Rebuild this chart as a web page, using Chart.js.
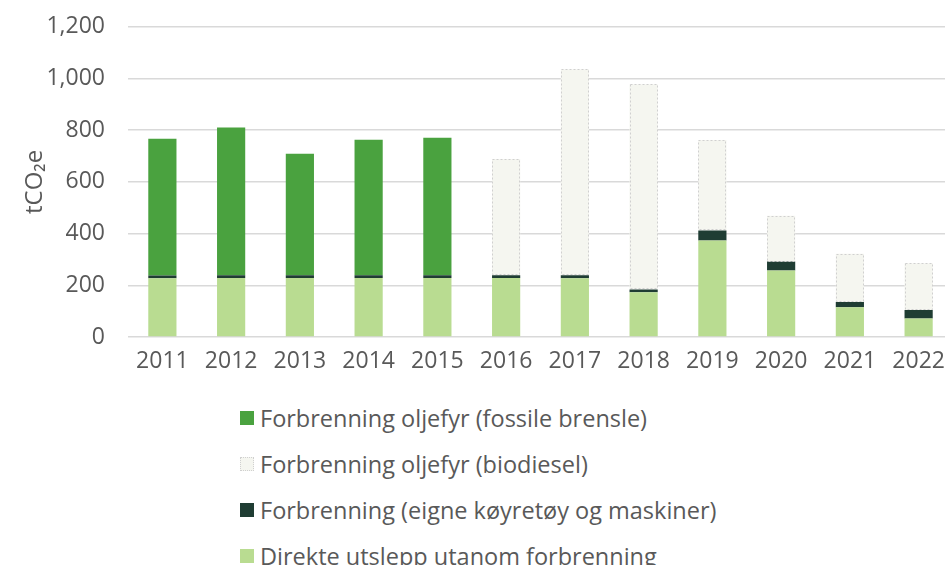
<!DOCTYPE html>
<html>
<head>
<meta charset="utf-8">
<script src="https://cdn.jsdelivr.net/npm/chart.js@4"></script>
<style>
  html, body { margin: 0; padding: 0; background: #fff; overflow: hidden; }
  #wrap { position: relative; width: 945px; height: 565px; overflow: hidden; }
  #chart-box { position: absolute; left: 0; top: -10px; width: 990px; height: 400px; }
  #legend { position: absolute; left: 240px; top: 395px; font-family: "Open Sans", sans-serif; font-size: 23.5px; color: #595959; }
  .leg-item { height: 46px; display: flex; align-items: center; white-space: nowrap; }
  .leg-box { width: 14px; height: 14px; margin-right: 6px; box-sizing: border-box; }
</style>
</head>
<body>
<div id="wrap">
  <div id="chart-box"><canvas id="chart"></canvas></div>
  <div id="legend"></div>
</div>
<script>
const years = ['2011', '2012', '2013', '2014', '2015', '2016', '2017', '2018', '2019', '2020', '2021', '2022'];
const direkte = [227, 228, 228, 228, 228, 228, 227, 173, 373, 257, 115, 72];
const eigne = [11, 11, 11, 11, 11, 11, 12, 11, 39, 35, 20, 32];
const biodiesel = [null, null, null, null, null, 450, 797, 794, 350, 177, 187, 181];
const fossil = [529, 571, 470, 524, 532, null, null, null, null, null, null, null];
const yTicks = [0, 200, 400, 600, 800, 1000, 1200];

const textColor = '#595959';
const font = '"Open Sans", sans-serif';

// biodiesel bars have a dotted outline in the original
const dashedOutline = {
  id: 'dashedOutline',
  afterDatasetsDraw(chart) {
    const ctx = chart.ctx;
    chart.data.datasets.forEach((ds, i) => {
      if (!ds.dashed) return;
      chart.getDatasetMeta(i).data.forEach((bar, j) => {
        if (ds.data[j] == null) return;
        const p = bar.getProps(['x', 'y', 'base', 'width'], true);
        ctx.save();
        ctx.strokeStyle = '#d0d0d0';
        ctx.lineWidth = 1;
        ctx.setLineDash([2, 2]);
        ctx.strokeRect(Math.round(p.x - p.width / 2) + 0.5, Math.round(p.y) + 0.5, Math.round(p.width) - 1, Math.round(p.base - p.y) - 1);
        ctx.restore();
      });
    });
  }
};

const chart = new Chart(document.getElementById('chart'), {
  type: 'bar',
  data: {
    labels: years,
    datasets: [
      { label: 'Direkte utslepp utanom forbrenning', data: direkte, backgroundColor: '#b9dc91' },
      { label: 'Forbrenning (eigne køyretøy og maskiner)', data: eigne, backgroundColor: '#1f3d33' },
      { label: 'Forbrenning oljefyr (biodiesel)', data: biodiesel, backgroundColor: '#f5f6f0', dashed: true },
      { label: 'Forbrenning oljefyr (fossile brensle)', data: fossil, backgroundColor: '#4aa23f' }
    ]
  },
  options: {
    responsive: true,
    maintainAspectRatio: false,
    animation: false,
    layout: { padding: { top: 9, left: 0, right: 37, bottom: 0 } },
    datasets: { bar: { categoryPercentage: 1, barPercentage: 0.41, borderWidth: 0 } },
    plugins: {
      legend: { display: false },
      tooltip: { enabled: false }
    },
    scales: {
      x: {
        stacked: true,
        grid: { display: false, drawTicks: false },
        border: { display: false },
        ticks: { color: textColor, font: { family: font, size: 23 }, padding: 11, maxRotation: 0 },
        afterFit(scale) { scale.height = 53; }
      },
      y: {
        stacked: true,
        min: 0,
        max: 1200,
        afterBuildTicks(scale) { scale.ticks = yTicks.map(v => ({ value: v })); },
        grid: { color: '#d9d9d9', lineWidth: 1.5, drawTicks: false },
        border: { display: false },
        ticks: { color: textColor, font: { family: font, size: 23 }, padding: 23 },
        title: { display: true, text: 'tCO₂e', color: textColor, font: { family: font, size: 24 }, padding: { top: 21, bottom: 0 } },
        afterFit(scale) { scale.width = 128; }
      }
    }
  },
  plugins: [dashedOutline]
});

// legend listed top-down in reverse stacking order
const legend = document.getElementById('legend');
chart.data.datasets.slice().reverse().forEach(ds => {
  const item = document.createElement('div');
  item.className = 'leg-item';
  const box = document.createElement('span');
  box.className = 'leg-box';
  box.style.background = ds.backgroundColor;
  if (ds.dashed) box.style.border = '1px dotted #d0d0d0';
  item.appendChild(box);
  const txt = document.createElement('span');
  txt.textContent = ds.label;
  item.appendChild(txt);
  legend.appendChild(item);
});
</script>
</body>
</html>
